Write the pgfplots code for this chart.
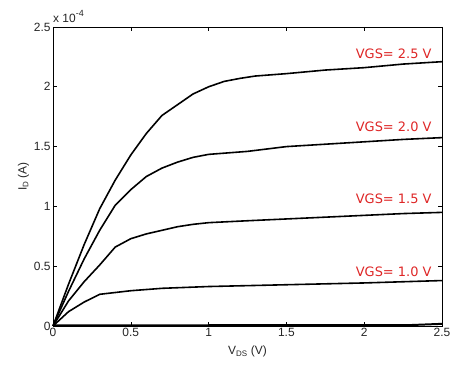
\documentclass[border=0pt]{standalone}
\usepackage{pgfplots}
\pgfplotsset{compat=1.18}
\usepackage{fontspec}
\setmainfont{Liberation Sans}
\newfontfamily\labfont{DejaVu Sans}
\definecolor{vgsred}{RGB}{222,38,38}
\begin{document}
\begin{tikzpicture}
\useasboundingbox (-53bp,-39bp) rectangle (403bp,326bp);
\begin{axis}[
  at={(0,0)}, anchor=south west,
  scale only axis, width=389bp, height=299bp,
  xmin=0, xmax=2.5, ymin=0, ymax=2.5,
  xtick={0,0.5,1,1.5,2,2.5}, xticklabels={0,0.5,1,1.5,2,2.5},
  ytick={0,0.5,1,1.5,2,2.5}, yticklabels={0,0.5,1,1.5,2,2.5},
  scaled y ticks=false,
  tick align=inside, tick pos=both,
  major tick length=4bp,
  tick style={black, line width=0.6pt},
  axis line style={black, line width=0.9pt},
  ticklabel style={font=\fontsize{12}{14}\selectfont, color=black!85},
  xticklabel style={yshift=1bp},
  yticklabel style={xshift=1bp},
  label style={font=\fontsize{12}{14}\selectfont, color=black!85},
  xlabel={V\textsubscript{DS} (V)},
  ylabel={I\textsubscript{D} (A)},
  xlabel style={yshift=-2bp},
  ylabel style={yshift=-2bp},
  clip=false,
]
\addplot[black, line width=1.6pt] coordinates {(0,0)(0.1,0.35)(0.2,0.68)(0.3,0.98)(0.4,1.22)(0.5,1.43)(0.6,1.61)(0.7,1.76)(0.8,1.85)(0.9,1.94)(1.0,2.0)(1.1,2.045)(1.2,2.07)(1.3,2.09)(1.4,2.10)(1.5,2.11)(1.75,2.14)(2.0,2.16)(2.25,2.19)(2.5,2.21)};
\addplot[black, line width=1.6pt] coordinates {(0,0)(0.1,0.29)(0.2,0.56)(0.3,0.80)(0.4,1.01)(0.5,1.14)(0.6,1.25)(0.7,1.32)(0.8,1.37)(0.9,1.41)(1.0,1.435)(1.25,1.46)(1.5,1.50)(1.75,1.52)(2.0,1.54)(2.25,1.56)(2.5,1.575)};
\addplot[black, line width=1.6pt] coordinates {(0,0)(0.1,0.21)(0.2,0.37)(0.3,0.51)(0.4,0.66)(0.5,0.73)(0.6,0.77)(0.7,0.80)(0.8,0.83)(0.9,0.85)(1.0,0.864)(1.25,0.88)(1.5,0.895)(1.75,0.91)(2.0,0.925)(2.25,0.94)(2.5,0.95)};
\addplot[black, line width=1.6pt] coordinates {(0,0)(0.1,0.12)(0.2,0.20)(0.3,0.265)(0.4,0.28)(0.5,0.295)(0.7,0.315)(1.0,0.33)(1.5,0.345)(2.0,0.36)(2.5,0.38)};
\addplot[black, line width=2pt] coordinates {(0,0.005)(2.3,0.008)(2.5,0.018)};
\node[anchor=east, inner sep=0, text=vgsred, font=\labfont\fontsize{13}{15}\selectfont] at (axis cs:2.434,2.28) {VGS= 2.5 V};
\node[anchor=east, inner sep=0, text=vgsred, font=\labfont\fontsize{13}{15}\selectfont] at (axis cs:2.434,1.667) {VGS= 2.0 V};
\node[anchor=east, inner sep=0, text=vgsred, font=\labfont\fontsize{13}{15}\selectfont] at (axis cs:2.434,1.06) {VGS= 1.5 V};
\node[anchor=east, inner sep=0, text=vgsred, font=\labfont\fontsize{13}{15}\selectfont] at (axis cs:2.434,0.454) {VGS= 1.0 V};
\node[anchor=base west, inner sep=0, font=\fontsize{12}{14}\selectfont, text=black!85] at ([yshift=4bp]rel axis cs:0,1) {x 10\raisebox{6bp}{\fontsize{9}{10}\selectfont -4}};
\end{axis}
\end{tikzpicture}
\end{document}
